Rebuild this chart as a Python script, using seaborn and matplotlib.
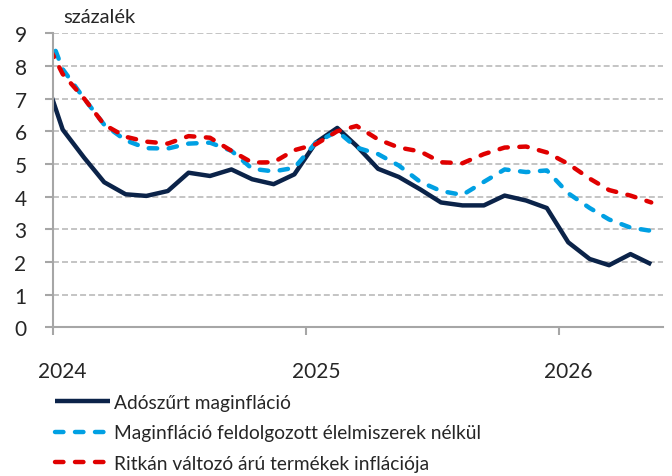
import pandas as pd
import numpy as np
import seaborn as sns
import matplotlib.pyplot as plt
import matplotlib.dates as mdates
from matplotlib.ticker import NullFormatter

# havi adatok, hónap közepére datálva (2023 dec - 2026 máj)
months = pd.date_range("2023-12-01", periods=30, freq="MS") + pd.Timedelta(days=14)

core_tax_adj = [
    8.0, 6.05, 5.19, 4.44, 4.07, 4.02, 4.17, 4.73, 4.63, 4.83, 4.53, 4.38,
    4.68, 5.65, 6.1, 5.55, 4.85, 4.6, 4.22, 3.82, 3.73, 3.73, 4.03, 3.88,
    3.65, 2.6, 2.09, 1.9, 2.24, 1.93,
]
core_ex_food = [
    9.6, 7.9, 7.0, 6.2, 5.72, 5.48, 5.47, 5.62, 5.65, 5.4, 4.85, 4.77,
    4.88, 5.65, 6.0, 5.5, 5.3, 4.95, 4.45, 4.17, 4.05, 4.45, 4.83, 4.75,
    4.8, 4.1, 3.65, 3.3, 3.05, 2.95,
]
sticky_prices = [
    9.05, 7.75, 7.0, 6.2, 5.83, 5.68, 5.62, 5.85, 5.8, 5.4, 5.04, 5.05,
    5.42, 5.6, 6.0, 6.16, 5.75, 5.5, 5.38, 5.05, 5.02, 5.3, 5.5, 5.53,
    5.35, 5.0, 4.55, 4.2, 4.03, 3.82,
]

series_names = [
    "Adószűrt maginfláció",
    "Maginfláció feldolgozott élelmiszerek nélkül",
    "Ritkán változó árú termékek inflációja",
]
colors = ["#0B2349", "#00A0E3", "#E00000"]

sns.set_style("white")
plt.rcParams["font.family"] = ["Lato", "DejaVu Sans"]

fig = plt.figure(figsize=(6.72, 4.77), dpi=100)
ax = fig.add_axes([53 / 672, 1 - 328.3 / 477, 610 / 672, 294.8 / 477])

for values, name, color, dashed in zip(
    [core_tax_adj, core_ex_food, sticky_prices],
    series_names,
    colors,
    [False, True, True],
):
    sns.lineplot(x=months, y=values, ax=ax, color=color, linewidth=3.2, label=name)
    line = ax.lines[-1]
    if dashed:
        line.set_dashes((1.9, 2.6))
        line.set_dash_capstyle("round")
    line.set_solid_capstyle("butt")

ax.get_legend().remove()

ax.set_xlim(pd.Timestamp("2024-01-01"), pd.Timestamp("2026-06-01"))
ax.set_ylim(0, 9.02)
ax.set_yticks(range(0, 10))
ax.set_xlabel("")
ax.set_ylabel("")

ax.xaxis.set_major_locator(mdates.YearLocator())
ax.xaxis.set_major_formatter(NullFormatter())
ax.xaxis.set_minor_locator(mdates.YearLocator(month=1, day=15))
ax.xaxis.set_minor_formatter(mdates.DateFormatter("%Y"))

grey = "#A6A6A6"
ax.set_axisbelow(True)
ax.yaxis.grid(True, color="#BFBFBF", linewidth=1.3, linestyle=(0, (3.3, 1.7)))
ax.xaxis.grid(False)

for side in ["top", "right"]:
    ax.spines[side].set_visible(False)
for side in ["left", "bottom"]:
    ax.spines[side].set_color(grey)
    ax.spines[side].set_linewidth(1.5)

ax.tick_params(axis="y", which="major", direction="out", length=6, width=1.5,
               color=grey, pad=13, labelsize=15, left=True)
ax.tick_params(axis="x", which="major", direction="out", length=6, width=1.5,
               color=grey, bottom=True)
ax.tick_params(axis="x", which="minor", length=0, pad=24, labelsize=15)

fig.text(63 / 672, 1 - 23.3 / 477, "százalék", fontsize=14.5, va="baseline")

handles, labels = ax.get_legend_handles_labels()
fig.legend(
    handles, labels,
    loc="upper left",
    bbox_to_anchor=(55 / 672, 1 - 395 / 477),
    frameon=False,
    fontsize=13.8,
    handlelength=2.85,
    handletextpad=0.25,
    labelspacing=0.7,
    borderpad=0,
    borderaxespad=0,
)

fig.savefig("out.png", dpi=100)
